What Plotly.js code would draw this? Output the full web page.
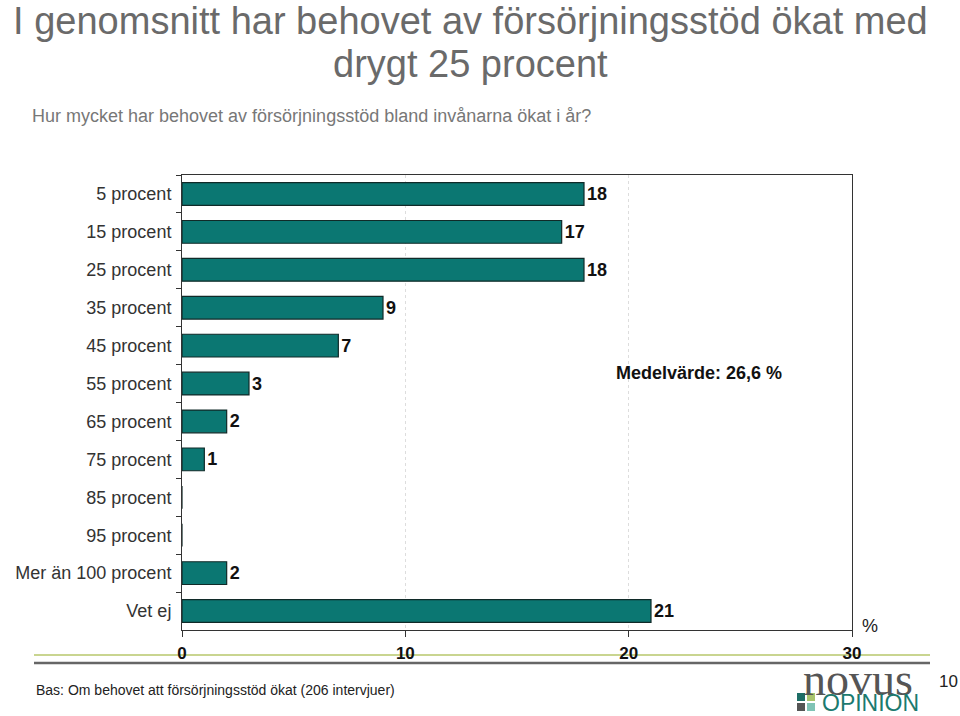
<!DOCTYPE html>
<html>
<head>
<meta charset="utf-8">
<script src="https://cdn.plot.ly/plotly-3.0.1.min.js"></script>
<style>html,body{margin:0;padding:0;background:#fff;}#chart{width:960px;height:716px;}</style>
</head>
<body>
<div id="chart"></div>
<script>
const categories = ["5 procent","15 procent","25 procent","35 procent","45 procent","55 procent","65 procent","75 procent","85 procent","95 procent","Mer än 100 procent","Vet ej"];
const values = [18,17,18,9,7,3,2,1,0,0,2,21];
const xTicks = [0,10,20,30];
const titleLine1 = "I genomsnitt har behovet av försörjningsstöd ökat med";
const titleLine2 = "drygt 25 procent";
const subtitleText = "Hur mycket har behovet av försörjningsstöd bland invånarna ökat i år?";
const meanText = "Medelvärde: 26,6 %";
const footerText = "Bas: Om behovet att försörjningsstöd ökat (206 intervjuer)";
const pageNumber = "10";

const W = 960, H = 716, L = 182, R = 108, T = 175, B = 86;
const PW = W - L - R, PH = H - T - B;
const px = x => (x - L) / PW;
const py = y => (H - B - y) / PH;
const FONT = "Liberation Sans, Arial, sans-serif";
const TITLE_FONT = {family: FONT, size: 38, color: "#6a6a6a"};

const trace = {
  type: "bar",
  orientation: "h",
  y: categories,
  x: values,
  width: 0.6,
  marker: {color: "#0b7772", line: {color: "#102a28", width: 1.2}},
  text: values.map(v => v > 0 ? String(v) : ""),
  textposition: "outside",
  textfont: {family: FONT, size: 18, color: "#111", weight: 700},
  cliponaxis: false,
  hoverinfo: "none"
};

function ann(text, x, y, opts) {
  return Object.assign({text: text, xref: "paper", yref: "paper", x: px(x), y: py(y),
    showarrow: false, xanchor: "left", yanchor: "middle",
    font: {family: FONT, size: 18, color: "#222"}}, opts || {});
}

const layout = {
  width: W, height: H,
  margin: {l: L, r: R, t: T, b: B, pad: 0},
  paper_bgcolor: "#fff", plot_bgcolor: "#fff",
  showlegend: false,
  title: {text: titleLine1, font: TITLE_FONT,
    xref: "container", x: 0.49, xanchor: "center", yref: "container", y: 1 - 21 / H, yanchor: "middle", pad: {t: 0}},
  xaxis: {range: [0, 30], tickvals: xTicks, ticktext: xTicks.map(String), ticks: "outside", ticklen: 6,
    tickcolor: "#333", showline: true, linecolor: "#333", linewidth: 1, mirror: true,
    showgrid: true, gridcolor: "#dddddd", griddash: "dot", gridwidth: 1, zeroline: false,
    tickfont: {family: FONT, size: 17, color: "#111", weight: 700}, ticklabelstandoff: 2, fixedrange: true},
  yaxis: {type: "category", autorange: "reversed", ticks: "outside", tickson: "boundaries", ticklen: 5,
    tickcolor: "#333", showline: true, linecolor: "#333", linewidth: 1, mirror: true, showgrid: false,
    tickfont: {family: FONT, size: 18, color: "#333"}, ticklabelstandoff: 6, fixedrange: true},
  annotations: [
    ann(titleLine2, 470, 64, {xanchor: "center", font: TITLE_FONT}),
    ann(subtitleText, 30, 116, {font: {family: FONT, size: 18, color: "#777"}}),
    ann(meanText, 614, 373, {font: {family: FONT, size: 18, color: "#111", weight: 700}}),
    ann("%", 860, 626, {font: {family: FONT, size: 18, color: "#222"}}),
    ann(footerText, 34, 690, {font: {family: FONT, size: 14, color: "#222"}}),
    ann("novus", 858, 679, {xanchor: "center", font: {family: "Liberation Serif, Times New Roman, serif", size: 46, color: "#555"}}),
    ann("OPINION", 820, 703, {font: {family: FONT, size: 23, color: "#1b7a6f"}}),
    ann(pageNumber, 948, 681, {xanchor: "center", font: {family: FONT, size: 17, color: "#222"}})
  ],
  shapes: [
    {type: "line", xref: "paper", yref: "paper", x0: px(34), x1: px(930), y0: py(655), y1: py(655), layer: "below", line: {color: "#c9d590", width: 2}},
    {type: "line", xref: "paper", yref: "paper", x0: px(34), x1: px(930), y0: py(663), y1: py(663), layer: "below", line: {color: "#666", width: 2.5}},
    {type: "rect", xref: "paper", yref: "paper", x0: px(797), x1: px(805), y0: py(693), y1: py(701), line: {width: 0}, fillcolor: "#1e6e66"},
    {type: "rect", xref: "paper", yref: "paper", x0: px(807), x1: px(815), y0: py(693), y1: py(701), line: {width: 0}, fillcolor: "#a9c46c"},
    {type: "rect", xref: "paper", yref: "paper", x0: px(797), x1: px(805), y0: py(703), y1: py(711), line: {width: 0}, fillcolor: "#555"},
    {type: "rect", xref: "paper", yref: "paper", x0: px(807), x1: px(815), y0: py(703), y1: py(711), line: {width: 0}, fillcolor: "#7fc3b5"}
  ]
};

Plotly.newPlot("chart", [trace], layout, {displayModeBar: false, staticPlot: true});
</script>
</body>
</html>
